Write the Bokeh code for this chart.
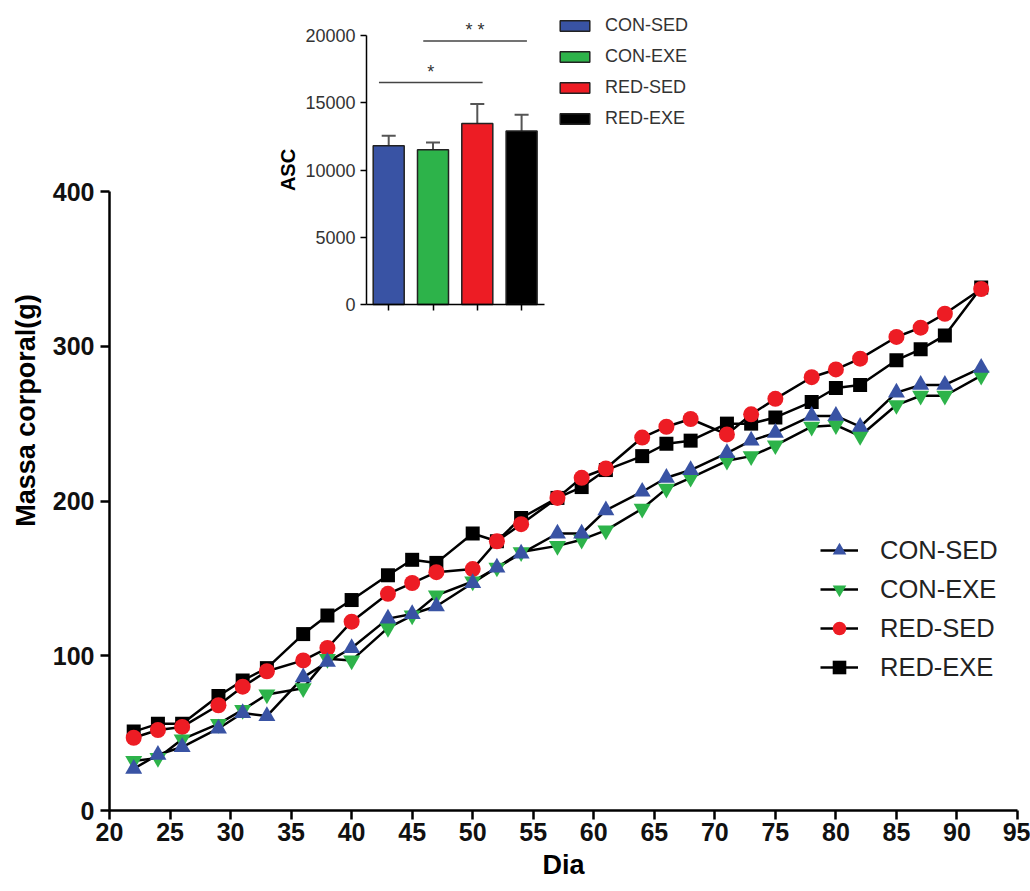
from math import pi
from bokeh.plotting import figure
from bokeh.models import (Range1d, LinearAxis, FixedTicker, Legend, LegendItem,
                          ColumnDataSource, Label)
from bokeh.core.properties import value
from bokeh.embed import file_html
from bokeh.resources import INLINE

# ---------------- data ----------------
days = [22, 24, 26, 29, 31, 33, 36, 38, 40, 43, 45, 47, 50, 52, 54, 57, 59, 61,
        64, 66, 68, 71, 73, 75, 78, 80, 82, 85, 87, 89, 92]
con_sed = [27, 36, 41, 53, 63, 61, 86, 96, 105, 124, 127, 132, 147, 157, 166, 179,
           179, 194, 206, 215, 220, 231, 239, 244, 255, 255, 248, 270, 275, 275, 286]
con_exe = [32, 34, 46, 56, 65, 75, 79, 98, 97, 118, 126, 139, 148, 157, 167, 171,
           175, 181, 195, 208, 215, 226, 229, 236, 248, 249, 242, 262, 268, 268, 281]
red_sed = [47, 52, 54, 68, 80, 90, 97, 105, 122, 140, 147, 154, 156, 174, 185, 202,
           215, 221, 241, 248, 253, 243, 256, 266, 280, 285, 292, 306, 312, 321, 337]
red_exe = [51, 56, 56, 74, 84, 92, 114, 126, 136, 152, 162, 160, 179, 174, 189, 202,
           209, 220, 229, 237, 239, 250, 250, 254, 264, 273, 275, 291, 298, 307, 338]

groups = ["CON-SED", "CON-EXE", "RED-SED", "RED-EXE"]
asc_mean = [11800, 11500, 13450, 12900]
asc_err = [750, 550, 1450, 1200]
# significance comparisons: (group a, group b, label)
sig_pairs = [("CON-SED", "RED-SED", "*"), ("CON-EXE", "RED-EXE", "* *")]
sig_y = [16500, 19600]

x_ticks = list(range(20, 96, 5))
y_ticks = [0, 100, 200, 300, 400]
asc_ticks = [0, 5000, 10000, 15000, 20000]

# ---------------- styles ----------------
BLUE, GREEN, RED, BLACK = "#3953a4", "#2db34a", "#ed1c24", "#000000"
colors = [BLUE, GREEN, RED, BLACK]
FONT = "Liberation Sans"

W, H = 1030, 891
FL, FR, FT, FB = 109, 1017, 10, 810   # frame edges in pixels

# main y: 0 -> 810 px, 400 -> 191 px
py_per = (810 - 191) / 400.0
y_end = (FB - FT) / py_per

p = figure(width=W, height=H, x_range=Range1d(20, 95), y_range=Range1d(0, y_end),
           output_backend="svg", toolbar_location=None,
           min_border_left=FL, min_border_right=W - FR, min_border_top=FT,
           min_border_bottom=H - FB)
p.outline_line_color = None
p.grid.visible = False
p.background_fill_color = "white"
p.border_fill_color = "white"

mx = p.xaxis[0]
my = p.yaxis[0]
for ax in (mx, my):
    ax.axis_line_width = 2.5
    ax.axis_line_color = "black"
    ax.major_tick_line_width = 2.5
    ax.major_tick_out = 9
    ax.major_tick_in = 0
    ax.minor_tick_out = 0
    ax.minor_tick_in = 0
    ax.major_label_text_font = FONT
    ax.major_label_text_font_size = "25px"
    ax.major_label_text_font_style = "bold"
    ax.major_label_text_color = "#111111"
    ax.axis_label_text_font = FONT
    ax.axis_label_text_font_size = "27px"
    ax.axis_label_text_font_style = "bold"
    ax.axis_label_text_color = "black"
mx.ticker = FixedTicker(ticks=x_ticks)
mx.axis_label = "Dia"
mx.major_label_standoff = 3
mx.axis_label_standoff = 6
my.ticker = FixedTicker(ticks=y_ticks)
my.bounds = (0, 400)
my.axis_label = "Massa corporal(g)"
my.major_label_standoff = 6
my.axis_label_standoff = 9

# ---------------- main series ----------------
series = [
    ("RED-EXE", red_exe, "square", BLACK, 14),
    ("RED-SED", red_sed, "circle", RED, 16),
    ("CON-EXE", con_exe, "inverted_triangle", GREEN, 17),
    ("CON-SED", con_sed, "triangle", BLUE, 17),
]
lines = {}
for name, vals, mk, col, sz in series:
    lines[name] = p.line(days, vals, line_color="black", line_width=2.5)
marks = {}
for name, vals, mk, col, sz in series:
    marks[name] = p.scatter(days, vals, marker=mk, size=sz, fill_color=col,
                            line_color=None)

legend_order = ["CON-SED", "CON-EXE", "RED-SED", "RED-EXE"]
main_legend = Legend(
    items=[LegendItem(label=n, renderers=[lines[n], marks[n]]) for n in legend_order],
    location=(820 - FL, FB - 684), orientation="vertical",
    glyph_width=38, glyph_height=34, label_height=34, spacing=5,
    label_standoff=22, padding=0, margin=0,
    border_line_color=None, background_fill_alpha=0,
    label_text_font=FONT, label_text_font_size="25.5px", label_text_color="#222222")
p.add_layout(main_legend, "center")

# ---------------- inset bar chart ----------------
bar_px = [388.2, 432.5]           # pixel centres of first two bars
px_per_bar = bar_px[1] - bar_px[0]
ix_start = -(bar_px[0] - FL) / px_per_bar
ix_end = ix_start + (FR - FL) / px_per_bar
iy_per = (304 - 35) / 20000.0
iy_start = -(FB - 304) / iy_per
iy_end = iy_start + (FB - FT) / iy_per
p.extra_x_ranges = {"ix": Range1d(ix_start, ix_end)}
p.extra_y_ranges = {"iy": Range1d(iy_start, iy_end)}

xpos = list(range(len(groups)))
src = ColumnDataSource(dict(x=xpos, top=asc_mean, color=colors, label=groups,
                            upper=[m + e for m, e in zip(asc_mean, asc_err)]))

p.segment(x0="x", y0="top", x1="x", y1="upper", source=src, line_color="#555555",
          line_width=2, x_range_name="ix", y_range_name="iy")
p.scatter(x="x", y="upper", source=src, marker="dash", size=14, line_color="#555555",
          line_width=2, x_range_name="ix", y_range_name="iy")
bars = p.vbar(x="x", top="top", bottom=0, width=0.7, source=src, fill_color="color",
              line_color="#222222", line_width=1.5, x_range_name="ix", y_range_name="iy")

iy_axis = LinearAxis(x_range_name="ix", y_range_name="iy", fixed_location=-0.5,
                     bounds=(0, 20000), ticker=FixedTicker(ticks=asc_ticks))
ix_axis = LinearAxis(x_range_name="ix", y_range_name="iy", fixed_location=0,
                     bounds=(-0.5, len(groups) - 0.48), ticker=FixedTicker(ticks=xpos),
                     major_label_overrides={float(i): "" for i in xpos})
for ax in (iy_axis, ix_axis):
    ax.axis_line_width = 1.5
    ax.axis_line_color = "black"
    ax.major_tick_line_width = 1.5
    ax.major_tick_out = 6
    ax.major_tick_in = 0
    ax.minor_tick_out = 0
    ax.minor_tick_in = 0
    ax.major_label_text_font = FONT
    ax.major_label_text_font_size = "18px"
    ax.major_label_text_color = "#333333"
    ax.major_label_standoff = 5
p.add_layout(iy_axis, "left")
p.add_layout(ix_axis, "below")

p.add_layout(Label(x=-0.5, y=10000, x_range_name="ix", y_range_name="iy",
                   text="ASC", angle=pi / 2, x_offset=-79, text_align="center",
                   text_baseline="middle", text_font=FONT, text_font_size="20px",
                   text_font_style="bold", text_color="black"))

# significance bars
sx0, sx1, sxm, slab = [], [], [], []
for a, b, lab in sig_pairs:
    ia, ib = groups.index(a), groups.index(b)
    sx0.append(ia - 0.22)
    sx1.append(ib + 0.12)
    sxm.append((ia - 0.22 + ib + 0.12) / 2)
    slab.append(lab)
p.segment(x0=sx0, y0=sig_y, x1=sx1, y1=sig_y, line_color="#444444", line_width=1.5,
          x_range_name="ix", y_range_name="iy")
p.text(x=sxm, y=sig_y, text=slab, x_range_name="ix", y_range_name="iy",
       text_font=value(FONT), text_font_size="18px", text_align="center",
       text_baseline="alphabetic", y_offset=-11, text_color="#333333")

inset_legend = Legend(
    items=[LegendItem(label=g, renderers=[bars], index=i) for i, g in enumerate(groups)],
    location=(447, FB - 129), orientation="vertical",
    glyph_width=37, glyph_height=13, label_height=20, spacing=10,
    label_standoff=12, padding=0, margin=0,
    border_line_color=None, background_fill_alpha=0,
    label_text_font=FONT, label_text_font_size="18px", label_text_color="#333333")
p.add_layout(inset_legend, "center")

open("out.html", "w").write(file_html(p, INLINE))
